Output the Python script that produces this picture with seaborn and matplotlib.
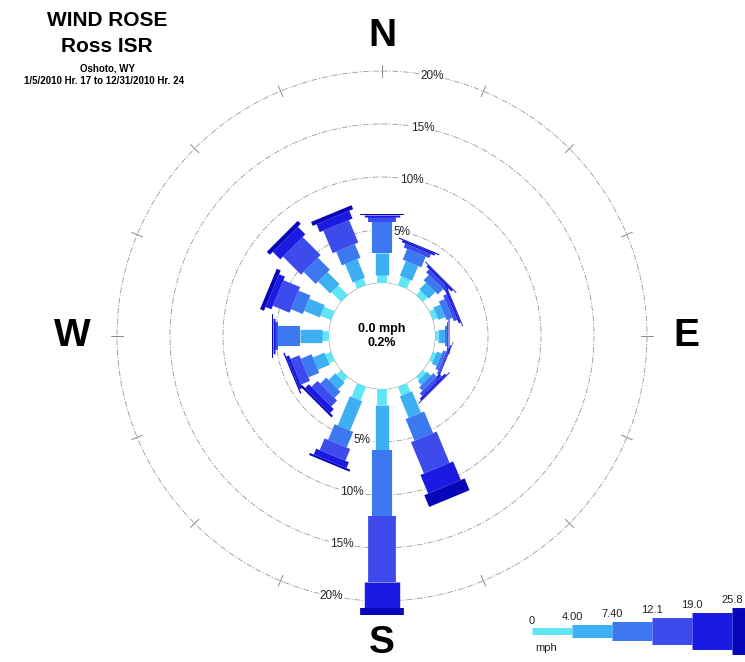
import numpy as np
import pandas as pd
import matplotlib
matplotlib.use('Agg')
import matplotlib.pyplot as plt
import seaborn as sns

# wind directions (clockwise from north) and speed classes
directions = ['N', 'NNE', 'NE', 'ENE', 'E', 'ESE', 'SE', 'SSE',
              'S', 'SSW', 'SW', 'WSW', 'W', 'WNW', 'NW', 'NNW']
speed_labels = ['0', '4.00', '7.40', '12.1', '19.0', '25.8']

# frequency (%) of each speed class per direction
c1 = [0.8, 0.9, 0.6, 0.5, 0.3, 0.35, 0.4, 0.9, 1.5, 1.4, 0.6, 0.6, 0.7, 1.1, 1.3, 0.7]
c2 = [2.0, 1.5, 0.9, 0.7, 0.6, 0.5, 0.5, 2.2, 4.3, 3.0, 0.9, 1.2, 2.0, 1.6, 1.6, 1.9]
c3 = [3.0, 1.1, 0.7, 0.6, 0.25, 0.3, 0.45, 2.2, 6.2, 1.6, 0.8, 1.1, 2.1, 1.2, 1.6, 1.4]
c4 = [0.4, 0.4, 0.4, 0.35, 0.12, 0.15, 0.35, 3.2, 6.2, 1.2, 0.8, 0.9, 0.3, 1.7, 2.4, 2.3]
c5 = [0.25, 0.2, 0.2, 0.2, 0.05, 0.1, 0.2, 1.9, 2.5, 0.6, 0.5, 0.3, 0.2, 0.6, 1.0, 0.8]
c6 = [0.1, 0.1, 0.08, 0.08, 0.0, 0.05, 0.08, 1.2, 0.6, 0.2, 0.2, 0.12, 0.1, 0.4, 0.4, 0.4]
calm_pct = 0.2
rings = [5, 10, 15, 20]

df = pd.DataFrame({'dir': directions, 'c1': c1, 'c2': c2, 'c3': c3,
                   'c4': c4, 'c5': c5, 'c6': c6})

sns.set_theme(style='white')
plt.rcParams['font.family'] = ['Liberation Sans', 'DejaVu Sans']
plt.rcParams['text.color'] = 'black'

colors = sns.color_palette(['#5fe6f6', '#3cb0f2', '#3c78f0', '#3e4bec', '#1a1ae2', '#0606b8'])
widths = [7, 9.6, 14.5, 20, 25.5, 31.5]   # bar thickness (pt) per speed class

fig = plt.figure(figsize=(7.45, 6.62), dpi=100)
W, H = 745, 662
cx, cy = 382, 326           # rose centre in pixels (from bottom)
px_per = 10.6               # pixels per percent
r0 = 5                      # calm circle offset (in percent units)
rmax = 22
R = (rmax + r0) * px_per
ax = fig.add_axes([(cx - R) / W, (cy - R) / H, 2 * R / W, 2 * R / H], projection='polar')
ax.set_theta_zero_location('N')
ax.set_theta_direction(-1)
ax.set_rorigin(-r0)
ax.set_ylim(0, rmax)
ax.set_axis_off()

# rings
th = np.linspace(0, 2 * np.pi, 400)
for rv in rings:
    ax.plot(th, np.full_like(th, rv), color='#9a9a9a', lw=0.6,
            ls=(0, (7, 2, 1.5, 2)), zorder=1)
ax.plot(th, np.zeros_like(th), color='#8a8a8a', lw=0.7, zorder=1)

# tick marks on the outer ring
for k in range(16):
    t = np.deg2rad(22.5 * k)
    ax.plot([t, t], [19.45, 20.55], color='#8a8a8a', lw=0.7, zorder=1)

# ring labels
for rv in rings:
    for ang in (11, 191):
        ax.text(np.deg2rad(ang), rv, f'{rv}%', fontsize=8.5, color='#222222',
                ha='center', va='center', zorder=2,
                bbox=dict(boxstyle='square,pad=0.1', fc='white', ec='none'))

# petals
theta = np.deg2rad(np.arange(len(directions)) * 22.5)
cols = ['c1', 'c2', 'c3', 'c4', 'c5', 'c6']
cum = np.zeros(len(directions))
for j, c in enumerate(cols):
    vals = df[c].values
    for i, t in enumerate(theta):
        if vals[i] <= 0:
            continue
        ax.plot([t, t], [cum[i], cum[i] + vals[i]], color=colors[j], lw=widths[j],
                solid_capstyle='butt', zorder=3 + j)
    cum = cum + vals

# calm label
ax.text(0, -r0, f'0.0 mph\n{calm_pct}%', ha='center', va='center', fontsize=9,
        fontweight='bold', linespacing=1.15)

# compass letters
for lab, ang, rr in [('N', 0, 23.3), ('E', 90, 23.7), ('S', 180, 24.0), ('W', 270, 24.2)]:
    ax.text(np.deg2rad(ang), rr, lab, ha='center', va='center', fontsize=28,
            fontweight='bold', clip_on=False)

# title block
fig.text(107 / W, 1 - 20 / H, 'WIND ROSE', ha='center', va='center', fontsize=15, fontweight='bold')
fig.text(107 / W, 1 - 46 / H, 'Ross ISR', ha='center', va='center', fontsize=15, fontweight='bold')
fig.text(107 / W, 1 - 68.5 / H, 'Oshoto, WY', ha='center', va='center', fontsize=7, fontweight='bold')
fig.text(104 / W, 1 - 81 / H, '1/5/2010 Hr. 17 to 12/31/2010 Hr. 24', ha='center', va='center',
         fontsize=7, fontweight='bold')

# speed legend
seg = 40
lax = fig.add_axes([532 / W, 0, 6 * seg / W, 60 / H])
lax.set_xlim(0, 6)
lax.set_ylim(0, 60)
lax.set_axis_off()
leg_w = [5, 9.4, 13.7, 19.4, 26.6, 33.8]
for j in range(6):
    lax.plot([j, j + 1], [31, 31], color=colors[j], lw=leg_w[j], solid_capstyle='butt')
    lax.text(j, 31 + leg_w[j] * 0.7 + 7, speed_labels[j], ha='center', va='center',
             fontsize=8, color='#222222')
lax.text(0.07, 14, 'mph', ha='left', va='center', fontsize=8, color='#222222')

fig.savefig('out.png', dpi=100)
